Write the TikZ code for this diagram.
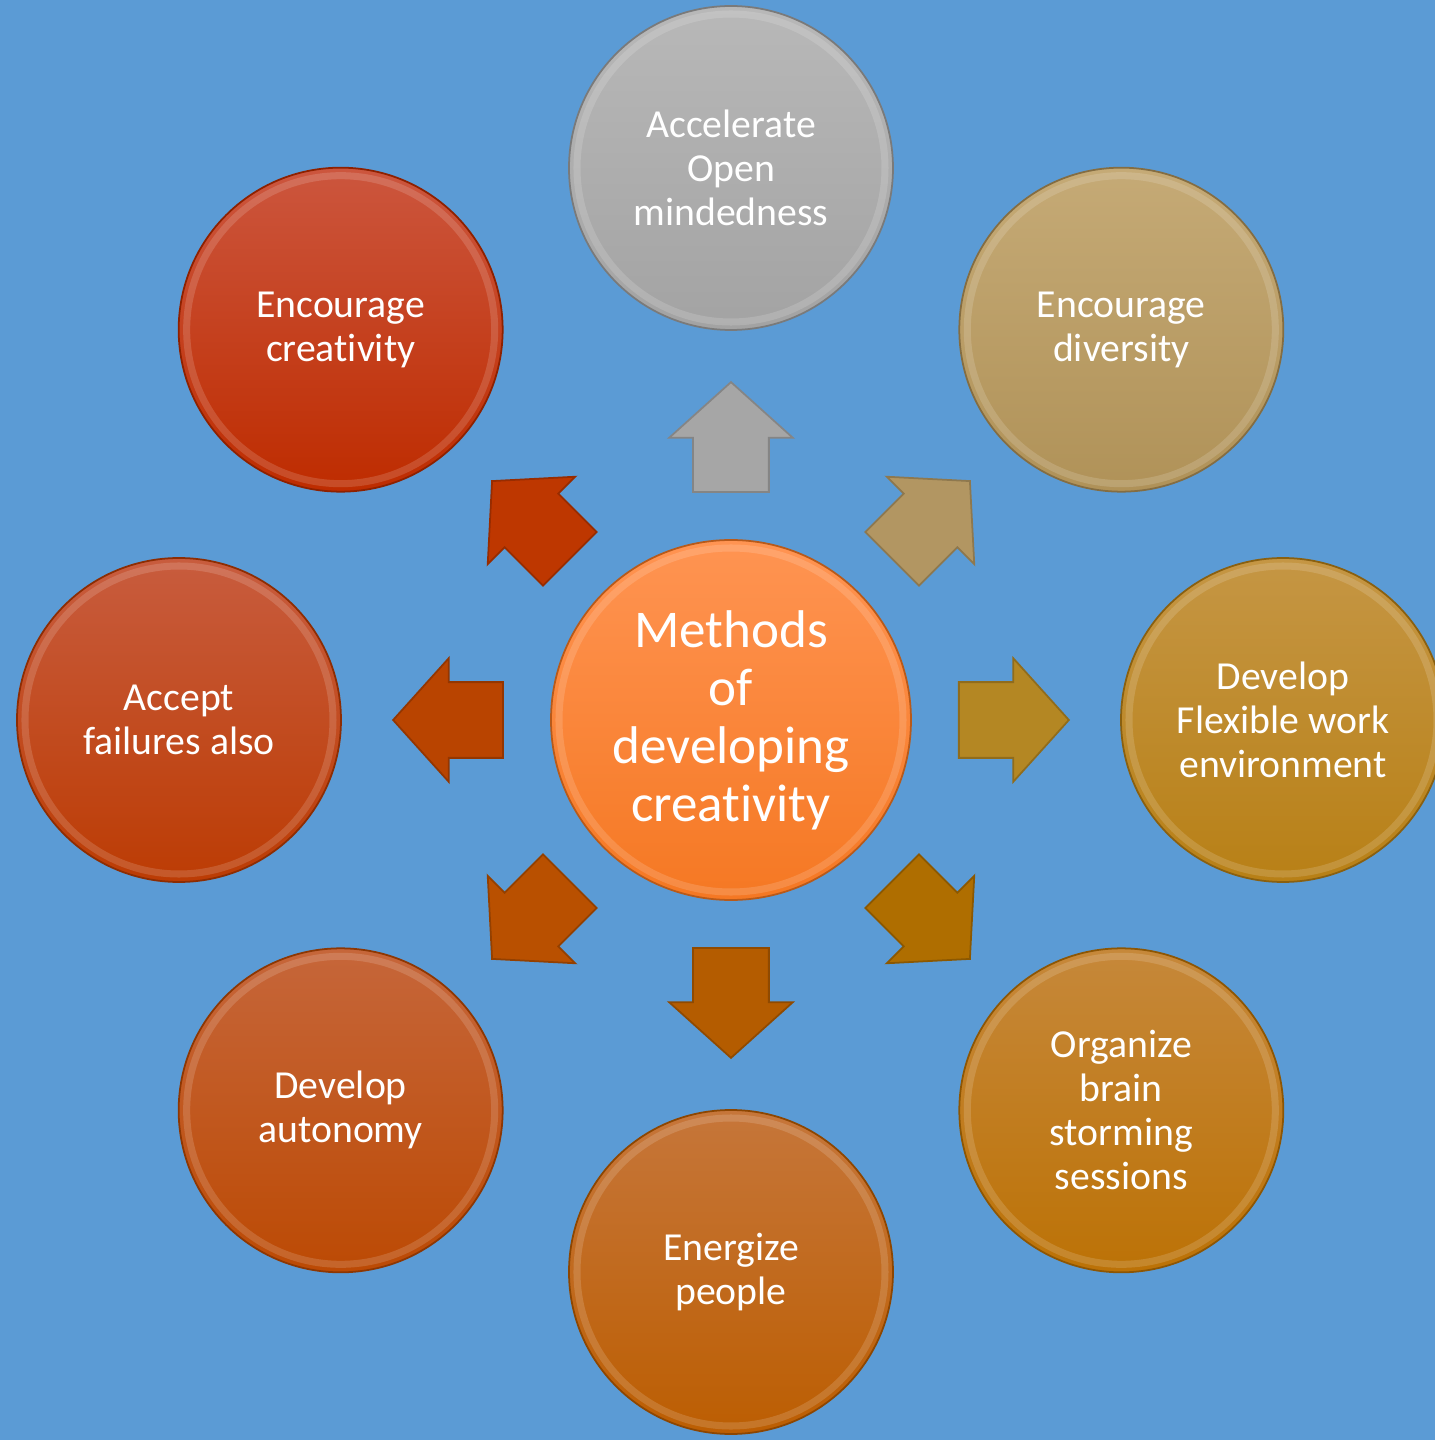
\documentclass[tikz,border=0pt]{standalone}
\usepackage{fontspec}
\setmainfont{Carlito}[Ligatures=NoCommon]
\usetikzlibrary{shapes.arrows, positioning}

\definecolor{bgblue}{RGB}{91,155,213}
% circle colours (top / bottom of the shading)
\definecolor{hubtop}{RGB}{255,148,82}
\definecolor{hubbot}{RGB}{245,120,35}
\definecolor{graytop}{RGB}{184,184,184}
\definecolor{graybot}{RGB}{163,163,163}
\definecolor{tantop}{RGB}{197,170,118}
\definecolor{tanbot}{RGB}{176,146,88}
\definecolor{goldtop}{RGB}{197,150,68}
\definecolor{goldbot}{RGB}{184,128,22}
\definecolor{ambertop}{RGB}{198,136,58}
\definecolor{amberbot}{RGB}{188,114,6}
\definecolor{browntop}{RGB}{198,118,58}
\definecolor{brownbot}{RGB}{188,94,2}
\definecolor{rusttop}{RGB}{198,102,58}
\definecolor{rustbot}{RGB}{188,74,4}
\definecolor{burnttop}{RGB}{200,92,62}
\definecolor{burntbot}{RGB}{188,60,4}
\definecolor{redtop}{RGB}{204,86,62}
\definecolor{redbot}{RGB}{190,44,0}
% arrow colours
\definecolor{agray}{RGB}{166,166,166}
\definecolor{atan}{RGB}{178,150,98}
\definecolor{agold}{RGB}{180,135,35}
\definecolor{aamber}{RGB}{175,110,0}
\definecolor{abrown}{RGB}{180,92,0}
\definecolor{arust}{RGB}{185,80,0}
\definecolor{aburnt}{RGB}{185,68,0}
\definecolor{ared}{RGB}{190,55,0}

\tikzset{
  method/.style 2 args={circle, minimum size=3.24cm, inner sep=0pt, align=center,
    text=white, font=\fontsize{11.3}{12.5}\selectfont,
    top color=#1, bottom color=#2, draw=#2!75!black, line width=0.5pt},
  bevel/.style={draw=white, line width=2pt, opacity=0.15},
  blockarr/.style={single arrow, minimum height=1.10cm, inner xsep=0pt, inner ysep=0.37cm,
    single arrow head extend=0.24cm, single arrow tip angle=96,
    fill=#1, draw=#1!80!black, line width=0.5pt},
}

\begin{document}
\begin{tikzpicture}
  \useasboundingbox (-7.31,-7.20) rectangle (7.04,7.20);
  \clip (-7.31,-7.20) rectangle (7.04,7.20);
  \fill[bgblue] (-7.31,-7.20) rectangle (7.04,7.20);

  % centre
  \node[method={hubtop}{hubbot}, minimum size=3.60cm,
        font=\fontsize{15.1}{16.5}\selectfont] (hub) at (0,0)
        {Methods\\of\\developing\\creativity};

  % outer circles
  \node[method={graytop}{graybot}] (open) at (90:5.52) {Accelerate\\Open\\mindedness};
  \node[method={tantop}{tanbot}] (divers) at (45:5.52) {Encourage\\diversity};
  \node[method={goldtop}{goldbot}] (flex) at (0:5.52) {Develop\\Flexible work\\environment};
  \node[method={ambertop}{amberbot}] (brain) at (-45:5.52) {Organize\\brain\\storming\\sessions};
  \node[method={browntop}{brownbot}] (energ) at (-90:5.52) {Energize\\people};
  \node[method={rusttop}{rustbot}] (auto) at (-135:5.52) {Develop\\autonomy};
  \node[method={burnttop}{burntbot}] (fail) at (180:5.52) {Accept\\failures also};
  \node[method={redtop}{redbot}] (creat) at (135:5.52) {Encourage\\creativity};

  \foreach \n in {open,divers,flex,brain,energ,auto,fail,creat}
    \draw[bevel] (\n.center) circle (1.54cm);
  \draw[bevel] (hub.center) circle (1.72cm);

  % block arrows
  \foreach \ang/\col/\nm in {90/agray/aup, 45/atan/aur, 0/agold/ar, -45/aamber/adr,
      -90/abrown/ad, -135/arust/adl, 180/aburnt/al, 135/ared/aul}
    \node[blockarr=\col, rotate=\ang, anchor=tail] (\nm) at (\ang:2.27) {};
\end{tikzpicture}
\end{document}
